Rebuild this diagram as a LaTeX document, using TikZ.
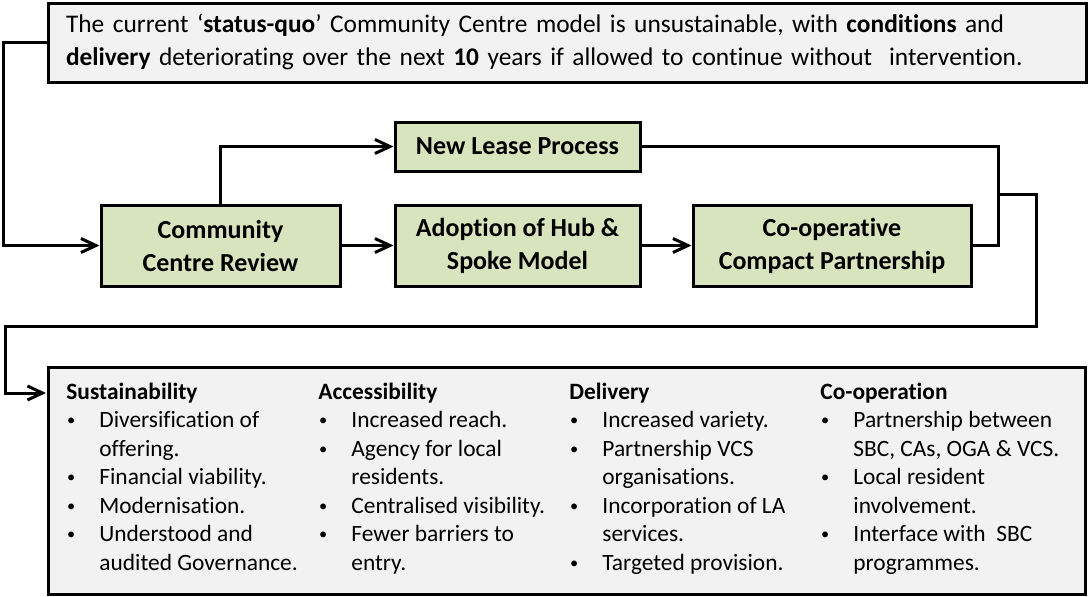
\documentclass[tikz,border=0pt]{standalone}
\usepackage{fontspec}
\setmainfont{Carlito}[Ligatures=NoCommon]
\usepackage{graphicx}
\usepackage{tikz}
\usetikzlibrary{arrows.meta}

\definecolor{stagegreen}{HTML}{D7E4BD}
\definecolor{panelgrey}{HTML}{F2F2F2}

\newcommand{\bul}{\makebox[16.5pt][l]{\hspace{0.3pt}\raisebox{0.8pt}{\scalebox{0.7}{\textbullet}}}}
\newcommand{\ind}{\hspace*{16.5pt}}

\begin{document}
\begin{tikzpicture}[x=0.5pt,y=-0.5pt,
  stage/.style={draw,line width=1.5pt,fill=stagegreen,align=center,inner sep=0pt,
    font=\fontsize{13}{16.5}\selectfont\bfseries},
  panel/.style={draw,line width=1.5pt,fill=panelgrey},
  flow/.style={line width=1.5pt,-{Straight Barb[length=7.5pt,width=7pt]}},
  link/.style={line width=1.5pt},
  col/.style={anchor=base west,align=left,inner sep=0pt,
    font=\fontsize{11.7}{14.25}\selectfont}]
\useasboundingbox (0,0) rectangle (1088,596);

\node[panel,minimum width=519pt,minimum height=39.5pt,text width=501pt,
  inner xsep=9pt,inner ysep=0pt,align=left,font=\fontsize{12.7}{16.5}\selectfont]
  (status) at (567,42.5)
  {The current ‘\textbf{status-quo}’ Community Centre model is unsustainable, with \textbf{conditions} and\\
   \textbf{delivery} deteriorating over the next \textbf{10} years if allowed to continue without\ \ intervention.};

\node[stage,minimum width=119.5pt,minimum height=40.5pt] (ccr) at (220.5,245.5) {Community\\Centre Review};
\node[stage,minimum width=122.5pt,minimum height=24.5pt] (nlp) at (517.5,146.5) {New Lease Process};
\node[stage,minimum width=122.5pt,minimum height=40.5pt] (hub) at (517.5,245.5) {Adoption of Hub \&\\Spoke Model};
\node[stage,minimum width=139pt,minimum height=40.5pt] (ccp) at (832,245.5) {Co-operative\\Compact Partnership};

\node[panel,minimum width=518.5pt,minimum height=113.5pt] (aims) at (566.5,480.5) {};

% columns sit on the baseline of their last line
\node[col] (sust) at (66,570) {\textbf{Sustainability}\\
  \bul Diversification of\\ \ind offering.\\ \bul Financial viability.\\
  \bul Modernisation.\\ \bul Understood and\\ \ind audited Governance.};
\node[col] (access) at (318,570) {\textbf{Accessibility}\\
  \bul Increased reach.\\ \bul Agency for local\\ \ind residents.\\
  \bul Centralised visibility.\\ \bul Fewer barriers to\\ \ind entry.};
\node[col] (deliv) at (569,570) {\textbf{Delivery}\\
  \bul Increased variety.\\ \bul Partnership VCS\\ \ind organisations.\\
  \bul Incorporation of LA\\ \ind services.\\ \bul Targeted provision.};
\node[col] (coop) at (820,570) {\textbf{Co-operation}\\
  \bul Partnership between\\ \ind SBC, CAs, OGA \& VCS.\\ \bul Local resident\\
  \ind involvement.\\ \bul Interface with\ \ SBC\\ \ind programmes.};

\coordinate (join) at (998,194);
\coordinate (entry) at (46,393);

\draw[flow] (status.west) -- ++(-43,0) |- (ccr.west);
\draw[flow] (ccr.north) |- (nlp.west);
\draw[flow] (ccr) -- (hub);
\draw[flow] (hub) -- (ccp);
\draw[link] (nlp.east) -| (join) |- (ccp.east);
\draw[flow] (join) -- (1036,194) -- (1036,326) -- (5,326) |- (entry);
\end{tikzpicture}
\end{document}
